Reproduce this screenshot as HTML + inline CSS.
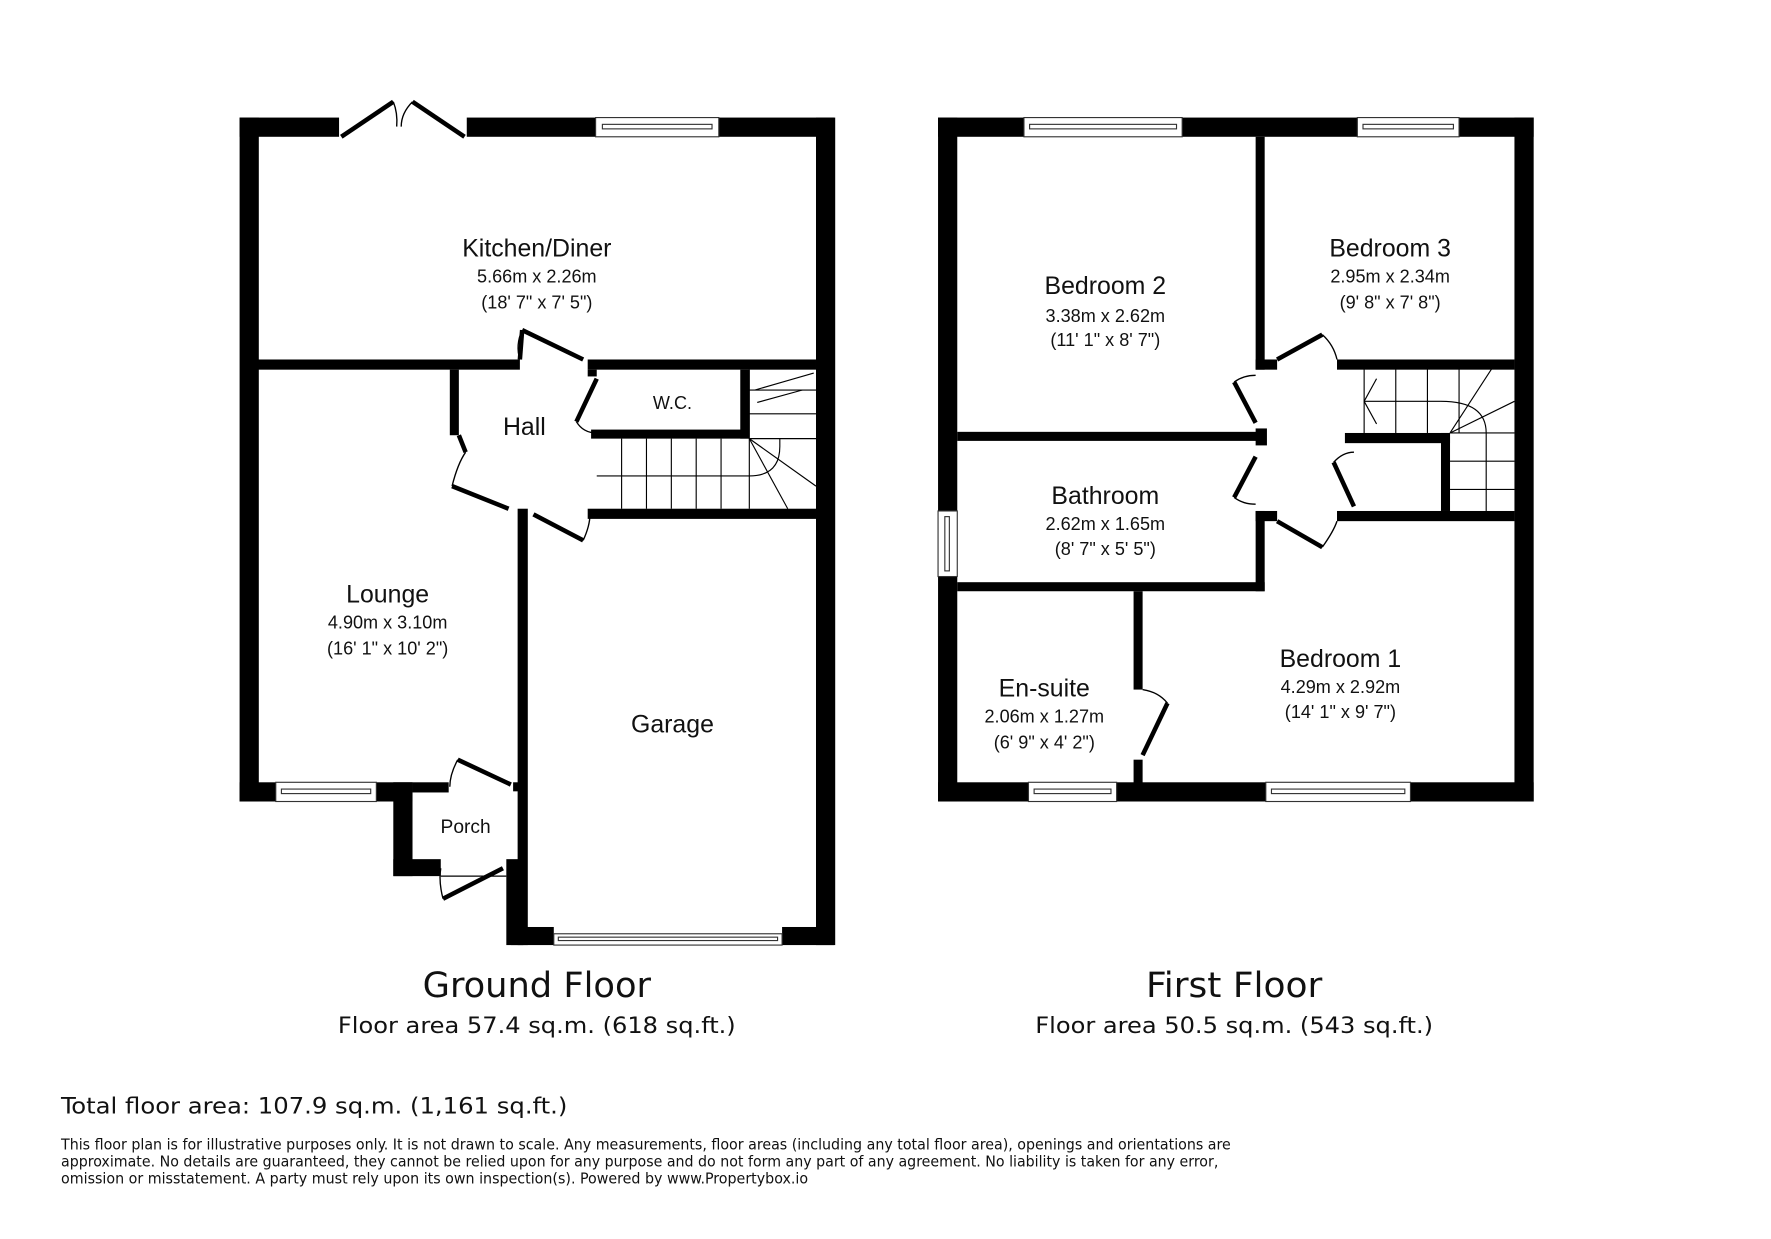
<!DOCTYPE html>
<html><head><meta charset="utf-8"><style>
html,body{margin:0;padding:0;background:#fff;width:1771px;height:1239px;overflow:hidden}
svg{display:block}
text{font-family:"Liberation Sans",Arial,sans-serif;fill:#111}
.t{font-family:"DejaVu Sans Condensed","DejaVu Sans","Liberation Sans",sans-serif}
</style></head><body>
<svg width="1771" height="1239" viewBox="0 0 1567 1096" preserveAspectRatio="none" xmlns="http://www.w3.org/2000/svg">
<g fill="#000">
<!-- Ground floor -->
<rect x="212" y="104" width="88" height="17"/>
<rect x="413" y="104" width="114" height="17"/>
<rect x="636" y="104" width="102" height="17"/>
<rect x="212" y="104" width="17" height="605"/>
<rect x="722" y="104" width="17" height="732"/>
<rect x="228" y="318" width="232" height="9"/>
<rect x="520" y="318" width="202" height="9"/>
<rect x="212" y="692" width="32" height="17"/>
<rect x="333" y="692" width="32" height="17"/>
<rect x="365" y="692" width="32" height="9"/>
<rect x="348" y="692" width="17" height="83"/>
<rect x="348" y="760" width="42" height="15"/>
<rect x="448" y="760" width="15" height="76"/>
<rect x="458" y="450" width="9" height="386"/>
<rect x="452" y="820" width="38" height="16"/>
<rect x="692" y="820" width="46" height="16"/>
<rect x="520" y="450" width="202" height="9"/>
<rect x="398" y="327" width="8" height="58"/>
<rect x="520" y="327" width="8" height="6"/>
<rect x="523" y="380" width="140" height="8"/>
<rect x="655" y="327" width="8" height="61"/>
<rect x="454" y="692" width="8" height="8"/>
<!-- First floor -->
<rect x="830" y="104" width="76" height="17"/>
<rect x="1046" y="104" width="155" height="17"/>
<rect x="1291" y="104" width="66" height="17"/>
<rect x="830" y="104" width="17" height="348"/>
<rect x="830" y="510" width="17" height="199"/>
<rect x="1340" y="104" width="17" height="605"/>
<rect x="830" y="692" width="80" height="17"/>
<rect x="988" y="692" width="132" height="17"/>
<rect x="1248" y="692" width="109" height="17"/>
<rect x="1111" y="121" width="8" height="206"/>
<rect x="1111" y="318" width="19" height="9"/>
<rect x="1183" y="318" width="157" height="9"/>
<rect x="847" y="382" width="272" height="8"/>
<rect x="1111" y="379" width="10" height="15"/>
<rect x="847" y="515" width="272" height="8"/>
<rect x="1111" y="452" width="8" height="71"/>
<rect x="1111" y="452" width="19" height="9"/>
<rect x="1183" y="452" width="157" height="9"/>
<rect x="1190" y="383" width="93" height="9"/>
<rect x="1275" y="383" width="8" height="69"/>
<rect x="1003" y="523" width="8" height="87"/>
<rect x="1003" y="672" width="8" height="22"/>
</g>
<!-- windows -->
<g fill="#fff" stroke="#333" stroke-width="1">
<rect x="527" y="104" width="109" height="17"/><rect x="533" y="110" width="97" height="4"/>
<rect x="244" y="692" width="89" height="17"/><rect x="249" y="698" width="79" height="4"/>
<rect x="490" y="826" width="202" height="10"/><rect x="494" y="829" width="194" height="3"/>
<rect x="906" y="104" width="140" height="17"/><rect x="911" y="110" width="130" height="4"/>
<rect x="1201" y="104" width="90" height="17"/><rect x="1206" y="110" width="80" height="4"/>
<rect x="910" y="692" width="78" height="17"/><rect x="915" y="698" width="68" height="4"/>
<rect x="1120" y="692" width="128" height="17"/><rect x="1125" y="698" width="118" height="4"/>
<rect x="830" y="452" width="17" height="58"/><rect x="836" y="457" width="4" height="48"/>
</g>
<!-- doors -->
<g stroke="#000" stroke-width="4" fill="none">
<line x1="302" y1="121" x2="348" y2="90"/><line x1="411" y1="121" x2="365" y2="90"/>
<line x1="460" y1="318" x2="462" y2="292"/><line x1="462" y1="292" x2="516" y2="318"/>
<line x1="528" y1="335" x2="510" y2="373"/>
<line x1="406" y1="385" x2="412" y2="400"/>
<line x1="400" y1="430" x2="450" y2="450"/>
<line x1="472" y1="455" x2="516" y2="478"/>
<line x1="405" y1="672" x2="452" y2="694"/>
<line x1="392" y1="795" x2="445" y2="768"/>
<line x1="1130" y1="318" x2="1170" y2="296"/>
<line x1="1111" y1="374" x2="1092" y2="338"/>
<line x1="1111" y1="404" x2="1092" y2="440"/>
<line x1="1198" y1="448" x2="1180" y2="409"/>
<line x1="1130" y1="461" x2="1170" y2="484"/>
<line x1="1011" y1="668" x2="1033" y2="622"/>
</g>
<g stroke="#000" stroke-width="1.2" fill="none">
<path d="M348 90 Q352 100 351 112"/><path d="M365 90 Q355 100 355 112"/>
<path d="M462 292 Q456 305 460 318"/>
<path d="M510 373 Q516 383 528 383"/>
<path d="M400 430 Q405 410 412 400"/>
<path d="M516 478 Q522 465 522 455"/>
<path d="M405 672 Q398 685 398 696"/>
<path d="M392 795 Q388 780 390 768"/><line x1="390" y1="775" x2="448" y2="775"/>
<path d="M1170 296 Q1180 305 1183 318"/>
<path d="M1092 338 Q1100 332 1111 332"/>
<path d="M1092 440 Q1100 446 1111 446"/>
<path d="M1180 409 Q1188 400 1198 400"/>
<path d="M1170 484 Q1180 470 1183 461"/>
<path d="M1033 622 Q1025 612 1011 610"/>
</g>
<!-- stairs -->
<g stroke="#000" stroke-width="1" fill="none">
<line x1="528" y1="421" x2="663" y2="421"/>
<line x1="663" y1="327" x2="663" y2="450"/>
<line x1="663" y1="345" x2="722" y2="345"/>
<line x1="663" y1="366" x2="722" y2="366"/>
<line x1="663" y1="388" x2="722" y2="388"/>
<g><line x1="550" y1="388" x2="550" y2="450"/><line x1="572" y1="388" x2="572" y2="450"/><line x1="594" y1="388" x2="594" y2="450"/><line x1="616" y1="388" x2="616" y2="450"/><line x1="638" y1="388" x2="638" y2="450"/></g>
<line x1="663" y1="388" x2="722" y2="430"/><line x1="663" y1="388" x2="697" y2="450"/>
<path d="M663 421 Q690 421 690 395 L690 388"/>
<line x1="668" y1="345" x2="720" y2="330"/><line x1="670" y1="356" x2="710" y2="345"/>
<line x1="1207" y1="326" x2="1207" y2="383"/>
<line x1="1207" y1="355" x2="1275" y2="355"/>
<line x1="1235" y1="326" x2="1235" y2="383"/><line x1="1263" y1="326" x2="1263" y2="383"/>
<line x1="1291" y1="326" x2="1291" y2="383"/>
<line x1="1283" y1="383" x2="1340" y2="383"/>
<line x1="1283" y1="408" x2="1340" y2="408"/><line x1="1283" y1="433" x2="1340" y2="433"/>
<line x1="1315" y1="383" x2="1315" y2="452"/>
<line x1="1283" y1="383" x2="1320" y2="326"/><line x1="1283" y1="383" x2="1340" y2="355"/>
<path d="M1275 355 Q1315 355 1315 383"/>
<line x1="1207" y1="355" x2="1218" y2="335"/><line x1="1207" y1="355" x2="1218" y2="375"/>
</g>
<!-- labels -->
<g text-anchor="middle">
<text x="475" y="227" font-size="22">Kitchen/Diner</text>
<text x="475" y="250" font-size="16">5.66m x 2.26m</text>
<text x="475" y="273" font-size="16">(18' 7" x 7' 5")</text>
<text x="464" y="385" font-size="22">Hall</text>
<text x="595" y="362" font-size="16">W.C.</text>
<text x="343" y="533" font-size="22">Lounge</text>
<text x="343" y="556" font-size="16">4.90m x 3.10m</text>
<text x="343" y="579" font-size="16">(16' 1" x 10' 2")</text>
<text x="595" y="648" font-size="22">Garage</text>
<text x="412" y="737" font-size="17">Porch</text>
<text x="978" y="260" font-size="22">Bedroom 2</text>
<text x="978" y="285" font-size="16">3.38m x 2.62m</text>
<text x="978" y="306" font-size="16">(11' 1" x 8' 7")</text>
<text x="1230" y="227" font-size="22">Bedroom 3</text>
<text x="1230" y="250" font-size="16">2.95m x 2.34m</text>
<text x="1230" y="273" font-size="16">(9' 8" x 7' 8")</text>
<text x="978" y="446" font-size="22">Bathroom</text>
<text x="978" y="469" font-size="16">2.62m x 1.65m</text>
<text x="978" y="491" font-size="16">(8' 7" x 5' 5")</text>
<text x="1186" y="590" font-size="22">Bedroom 1</text>
<text x="1186" y="613" font-size="16">4.29m x 2.92m</text>
<text x="1186" y="635" font-size="16">(14' 1" x 9' 7")</text>
<text x="924" y="616" font-size="22">En-suite</text>
<text x="924" y="639" font-size="16">2.06m x 1.27m</text>
<text x="924" y="662" font-size="16">(6' 9" x 4' 2")</text>
<text class="t" x="475" y="882" font-size="31" textLength="202" lengthAdjust="spacingAndGlyphs">Ground Floor</text>
<text class="t" x="475" y="914" font-size="20" textLength="352" lengthAdjust="spacingAndGlyphs">Floor area 57.4 sq.m. (618 sq.ft.)</text>
<text class="t" x="1092" y="882" font-size="31" textLength="156" lengthAdjust="spacingAndGlyphs">First Floor</text>
<text class="t" x="1092" y="914" font-size="20" textLength="352" lengthAdjust="spacingAndGlyphs">Floor area 50.5 sq.m. (543 sq.ft.)</text>
</g>
<text class="t" x="54" y="985" font-size="20" textLength="448" lengthAdjust="spacingAndGlyphs">Total floor area: 107.9 sq.m. (1,161 sq.ft.)</text>
<g class="t" font-size="13" fill="#333">
<text class="t" x="54" y="1017" textLength="1035" lengthAdjust="spacingAndGlyphs">This floor plan is for illustrative purposes only. It is not drawn to scale. Any measurements, floor areas (including any total floor area), openings and orientations are</text>
<text class="t" x="54" y="1032" textLength="1024" lengthAdjust="spacingAndGlyphs">approximate. No details are guaranteed, they cannot be relied upon for any purpose and do not form any part of any agreement. No liability is taken for any error,</text>
<text class="t" x="54" y="1047" textLength="661" lengthAdjust="spacingAndGlyphs">omission or misstatement. A party must rely upon its own inspection(s). Powered by www.Propertybox.io</text>
</g>
</svg>
</body></html>
